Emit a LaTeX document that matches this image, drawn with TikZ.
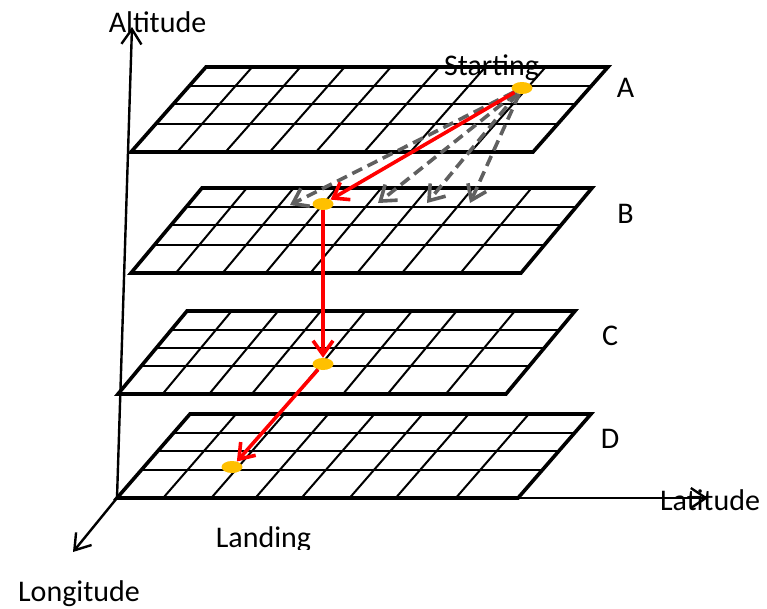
\documentclass[tikz,border=0pt]{standalone}
\usepackage{fontspec}
\setmainfont{Carlito}
\usetikzlibrary{arrows.meta,shapes.geometric}
\definecolor{spotorange}{RGB}{255,192,0}
\definecolor{probegray}{RGB}{96,96,96}

\begin{document}
\begin{tikzpicture}[x=1pt, y=-1pt, font=\fontsize{30}{36}\selectfont,
  txt/.style={inner sep=0pt},
  rim/.style={line width=3.6pt, line join=miter},
  cell/.style={line width=2pt},
  axis/.style={line width=2.4pt, -{Straight Barb[length=15pt,width=20pt]}},
  hop/.style={draw=red, line width=3.6pt, -{Straight Barb[length=14pt,width=20pt]}},
  probe/.style={draw=probegray, line width=3.6pt, dash pattern=on 11pt off 6pt, -{Straight Barb[length=14pt,width=20pt]}},
  spot/.style={ellipse, fill=spotorange, minimum width=21pt, minimum height=12pt, inner sep=0pt}]
\useasboundingbox (0,0) rectangle (767,608);
% layers: bottom-left x, bottom y, top-left x, top y, width, name, label x, label baseline
\def\planes{131/152/206/67/402/A/625.5/97,131/273/202/188/390/B/625.5/223,118/394/187/311/388/C/610/345,117/498/190/414/401/D/610/448}
\foreach \bx/\by/\tx/\ty/\w/\n/\lx/\ly in \planes {
  \foreach \r in {0.225,0.44,0.665}
    \draw[cell] ({\tx+(\bx-\tx)*\r},{\ty+(\by-\ty)*\r}) -- ++(\w,0);
  \foreach \f in {0.115,0.235,0.345,0.46,0.58,0.695,0.845}
    \draw[cell] ({\bx+\w*\f},\by) -- ({\tx+\w*\f},\ty);
  \draw[rim] (\bx,\by) -- ({\bx+\w},\by) -- ({\tx+\w},\ty) -- (\tx,\ty) -- cycle;
  \node[txt, anchor=base] (lbl\n) at (\lx,\ly) {\n};
}
% axes
\coordinate (orig) at (117,498);
\coordinate (altTip) at (132,27);
\coordinate (latTip) at (708,498);
\coordinate (lonTip) at (73,552);
\draw[axis] (orig) -- (altTip);
\draw[axis] (orig) -- (latTip);
\draw[axis] (orig) -- (lonTip);
\node[txt, anchor=base] (altLbl) at (157.5,32) {Altitude};
\node[txt, anchor=base] (latLbl) at (710,510) {Latitude};
\node[txt, anchor=base east] (lonLbl) at (140,601) {Longitude};
% waypoints
\node[spot] (dotA) at (522,88) {};
\node[spot] (dotB) at (323,204) {};
\node[spot] (dotC) at (323,364) {};
\node[spot] (dotD) at (232,467) {};
\coordinate (cand1) at (290,205);
\coordinate (cand2) at (378,203);
\coordinate (cand3) at (427,203);
\coordinate (cand4) at (470,203);
\foreach \i in {1,...,4} \draw[probe] (dotA) -- (cand\i);
\draw[hop] (dotA) -- (dotB);
\draw[hop] (dotB) -- (dotC);
\draw[hop] (dotC) -- (dotD);
\node[txt, anchor=base] (startLbl) at (491.5,75) {Starting};
\begin{scope}
  \clip (200,515) rectangle (330,549);
  \node[txt, anchor=base] (landLbl) at (263.5,547) {Landing};
\end{scope}
\end{tikzpicture}
\end{document}
